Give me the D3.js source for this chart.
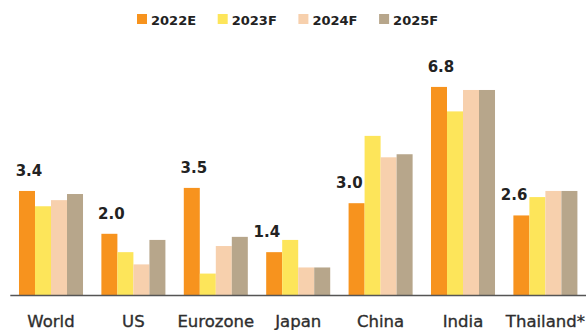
<!DOCTYPE html>
<html>
<head>
<meta charset="utf-8">
<script src="https://cdn.jsdelivr.net/npm/d3@7/dist/d3.min.js"></script>
<style>
  html, body { margin: 0; padding: 0; background: #fff; }
  svg { display: block; font-family: "DejaVu Sans", sans-serif; }
</style>
</head>
<body>
<svg id="chart" width="586" height="330"></svg>
<script>
// GDP growth forecasts (%) by economy
const regions = ["World", "US", "Eurozone", "Japan", "China", "India", "Thailand*"];
const years = ["2022E", "2023F", "2024F", "2025F"];
const growth2022E = [3.4, 2.0, 3.5, 1.4, 3.0, 6.8, 2.6];
const growth2023F = [2.9, 1.4, 0.7, 1.8, 5.2, 6.0, 3.2];
const growth2024F = [3.1, 1.0, 1.6, 0.9, 4.5, 6.7, 3.4];
const growth2025F = [3.3, 1.8, 1.9, 0.9, 4.6, 6.7, 3.4];
const seriesValues = [growth2022E, growth2023F, growth2024F, growth2025F];
const colors = ["#f7931e", "#fde55a", "#f7d0ad", "#b7a68b"];

const svg = d3.select("#chart");
const baseY = 295;

const x0 = d3.scaleBand().domain(regions).range([9.8, 586.6])
  .paddingInner(0.223).paddingOuter(0.1115);
const x1 = d3.scaleBand().domain(years).range([0, x0.bandwidth()]).padding(0);
const y = d3.scaleLinear().domain([0, 7]).range([baseY, baseY - 7 * 30.6]);

const color = d3.scaleOrdinal().domain(years).range(colors);

// bars
const groups = svg.append("g").selectAll("g")
  .data(regions)
  .join("g")
  .attr("transform", d => `translate(${x0(d)},0)`);

groups.selectAll("rect")
  .data((r, i) => years.map((yr, k) => ({ year: yr, value: seriesValues[k][i] })))
  .join("rect")
  .attr("x", d => x1(d.year))
  .attr("width", x1.bandwidth())
  .attr("y", d => y(d.value))
  .attr("height", d => y(0) - y(d.value))
  .attr("fill", d => color(d.year));

// value labels for the 2022E bars
regions.forEach((r, i) => {
  const v = growth2022E[i];
  const bx = x0(r) + x1("2022E");
  const bw = x1.bandwidth();
  // shift the label left when the neighbouring bar rises above it
  const crowded = growth2023F[i] > v + 0.4;
  svg.append("text")
    .attr("x", crowded ? bx + bw - 2 : bx + bw / 2 + 2)
    .attr("y", y(v) - 15)
    .attr("text-anchor", crowded ? "end" : "middle")
    .attr("font-size", 15)
    .attr("font-weight", "bold")
    .attr("fill", "#222")
    .text(v.toFixed(1));
});

// category axis
const axis = svg.append("g")
  .attr("transform", `translate(0,${baseY})`)
  .call(d3.axisBottom(x0).tickSize(0).tickPadding(20));
axis.select(".domain").attr("stroke", "#555").attr("stroke-width", 1.5);
axis.selectAll("text")
  .attr("font-family", "DejaVu Sans, sans-serif")
  .attr("font-size", 16.5)
  .attr("fill", "#2e2e2e")
  .attr("stroke", "#2e2e2e")
  .attr("stroke-width", 0.35);

// legend
const legend = svg.append("g").selectAll("g")
  .data(years)
  .join("g")
  .attr("transform", (d, i) => `translate(${137 + i * 80.7},0)`);
legend.append("rect")
  .attr("x", 0).attr("y", 14)
  .attr("width", 10).attr("height", 10)
  .attr("fill", d => color(d));
legend.append("text")
  .attr("x", 14).attr("y", 24.5)
  .attr("font-size", 13)
  .attr("font-weight", "bold")
  .attr("fill", "#222")
  .text(d => d);
</script>
</body>
</html>
